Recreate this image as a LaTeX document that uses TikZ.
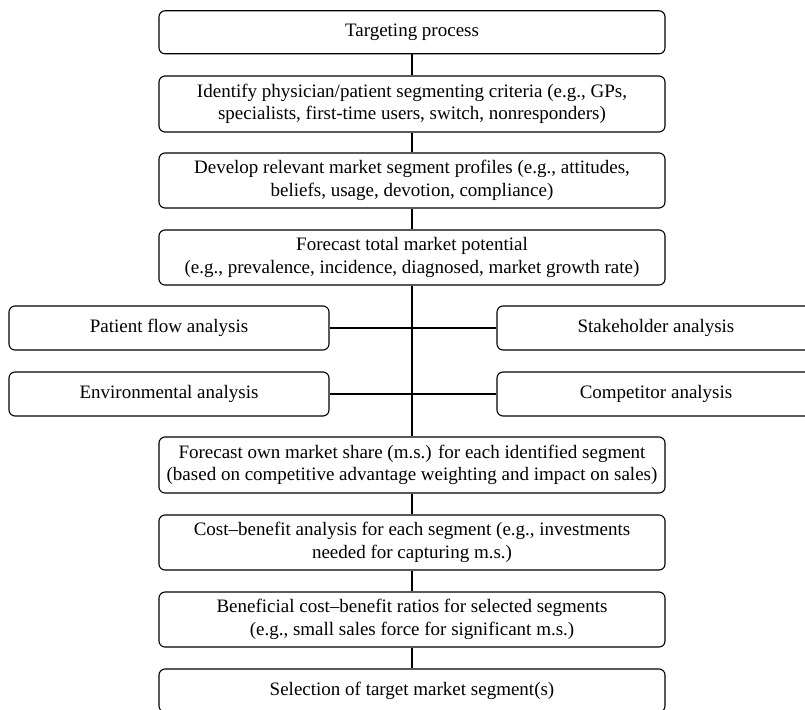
\documentclass[tikz,border=0pt]{standalone}
\usepackage{fontspec}
\setmainfont{Liberation Serif}
\tikzset{
  mainbox/.style={draw, line width=1.1pt, rounded corners=6pt, align=center,
    minimum width=506pt, inner sep=0pt,
    font=\fontsize{19}{22.5}\selectfont},
  sidebox/.style={draw, line width=1.1pt, rounded corners=6pt, align=center,
    minimum width=320pt, minimum height=44pt, inner sep=0pt,
    font=\fontsize{19}{22.5}\selectfont},
  link/.style={line width=1.3pt}
}
\begin{document}
\begin{tikzpicture}[x=1pt,y=-1pt]
\useasboundingbox (0,0) rectangle (805,709);
\clip (0,0) rectangle (805,709);
\node[mainbox, minimum height=43pt] (b1) at (412,32.3) {Targeting process};
\node[mainbox, minimum height=56pt] (b2) at (412,104) {Identify physician/patient segmenting criteria (e.g., GPs,\\specialists, first-time users, switch, nonresponders)};
\node[mainbox, minimum height=55pt] (b3) at (412,180.5) {Develop relevant market segment profiles (e.g., attitudes,\\beliefs, usage, devotion, compliance)};
\node[mainbox, minimum height=55pt] (b4) at (412,257.5) {Forecast total market potential\\(e.g., prevalence, incidence, diagnosed, market growth rate)};
\node[sidebox] (pf) at (169,328) {Patient flow analysis};
\node[sidebox, minimum width=318pt] (sh) at (656,328) {Stakeholder analysis};
\node[sidebox] (env) at (169,394) {Environmental analysis};
\node[sidebox, minimum width=318pt] (comp) at (656,394) {Competitor analysis};
\node[mainbox, minimum height=56pt] (b5) at (412,465) {Forecast own market share (m.s.) for each identified segment\\(based on competitive advantage weighting and impact on sales)};
\node[mainbox, minimum height=55pt] (b6) at (412,542.5) {Cost–benefit analysis for each segment (e.g., investments\\needed for capturing m.s.)};
\node[mainbox, minimum height=55pt] (b7) at (412,619.5) {Beneficial cost–benefit ratios for selected segments\\(e.g., small sales force for significant m.s.)};
\node[mainbox, minimum height=43pt] (b8) at (412,690.5) {Selection of target market segment(s)};
\draw[link] (b1) -- (b2);
\draw[link] (b2) -- (b3);
\draw[link] (b3) -- (b4);
\draw[link] (b4.south) -- (b5.north);
\draw[link] (pf.east) -- (sh.west);
\draw[link] (env.east) -- (comp.west);
\draw[link] (b5) -- (b6);
\draw[link] (b6) -- (b7);
\draw[link] (b7) -- (b8);
\end{tikzpicture}
\end{document}
